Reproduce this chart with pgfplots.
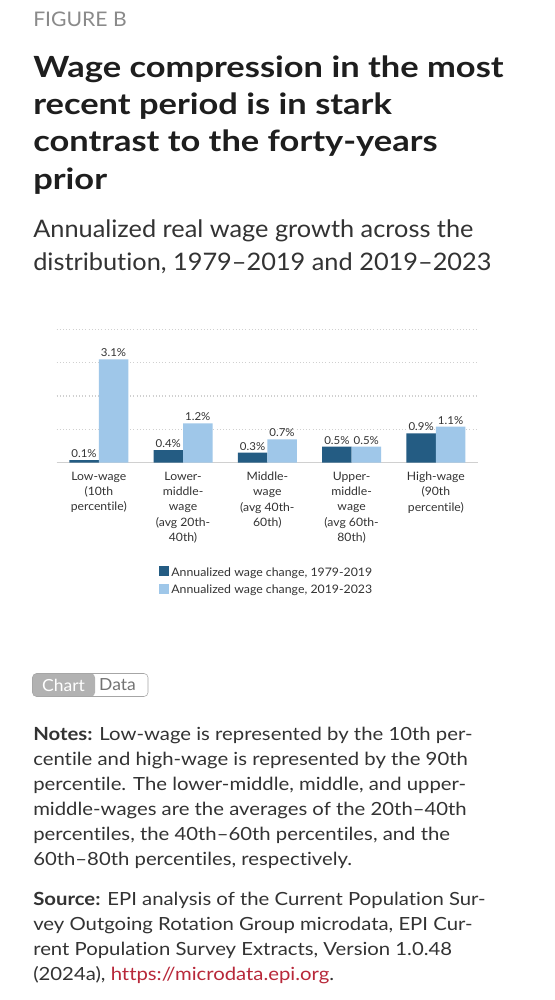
\documentclass[border=0pt]{standalone}
\usepackage{pgfplots}
\pgfplotsset{compat=1.18}
\usepackage{fontspec}
\setmainfont[Ligatures={TeX,NoCommon},FakeStretch=1.05]{Lato}
\newfontfamily\tfont[Ligatures={TeX,NoCommon},FakeStretch=1.18]{Lato}
\newfontfamily\nfont[Ligatures={TeX,NoCommon},FakeStretch=1.12]{Lato}
\definecolor{darkbar}{HTML}{245C83}
\definecolor{lightbar}{HTML}{9FC7E9}
\definecolor{txt}{HTML}{333333}
\definecolor{titlec}{HTML}{1E1E1E}
\definecolor{figc}{HTML}{8A8A8A}
\definecolor{linkc}{HTML}{B8283A}
\definecolor{gridc}{HTML}{D0D0D0}
\begin{document}
\begin{tikzpicture}
\begin{scope}[x=0.75pt,y=-0.75pt]
\path[use as bounding box,fill=white] (0,0) rectangle (554,1000);
% header
\node[anchor=base west,inner sep=0pt,text=figc,font=\fontsize{15.1}{16}\selectfont] at (33,26.7) {FIGURE B};
\begin{scope}[every node/.style={anchor=base west,inner sep=0pt,text=titlec,font=\tfont\fontsize{21.9}{26}\selectfont\bfseries}]
\node at (33,77) {Wage compression in the most};
\node at (33,114.3) {recent period is in stark};
\node at (33,151.6) {contrast to the forty-years};
\node at (33,189) {prior};
\end{scope}
\begin{scope}[every node/.style={anchor=base west,inner sep=0pt,text=txt,font=\fontsize{18.1}{24}\selectfont}]
\node at (33,237.5) {Annualized real wage growth across the};
\node at (33,270.5) {distribution, 1979--2019 and 2019--2023};
\end{scope}
% toggle
\fill[black!30,rounded corners=3pt] (32.5,673.5) -- (95,673.5) -- (95,696.5) -- (32.5,696.5) -- cycle;
\draw[black!35,rounded corners=3pt] (32.5,673.5) rectangle (148,696.5);
\node[text=white,font=\fontsize{12.5}{14}\selectfont] at (63.5,685) {Chart};
\node[text=black!55,font=\fontsize{12.5}{14}\selectfont] at (117.5,685) {Data};
% notes
\begin{scope}[every node/.style={anchor=base west,inner sep=0pt,text=txt,font=\nfont\fontsize{13.6}{16}\selectfont}]
\node at (33,740) {\textbf{Notes:} Low-wage is represented by the 10th per-};
\node at (33,765) {centile and high-wage is represented by the 90th};
\node at (33,790) {percentile. The lower-middle, middle, and upper-};
\node at (33,815) {middle-wages are the averages of the 20th--40th};
\node at (33,840) {percentiles, the 40th--60th percentiles, and the};
\node at (33,865) {60th--80th percentiles, respectively.};
\node at (33,905) {\textbf{Source:} EPI analysis of the Current Population Sur-};
\node at (33,930) {vey Outgoing Rotation Group microdata, EPI Cur-};
\node at (33,955) {rent Population Survey Extracts, Version 1.0.48};
\node at (33,980) {(2024a), \textcolor{linkc}{https://microdata.epi.org}.};
\end{scope}
\end{scope}
\begin{axis}[
  at={(42.5pt,-347pt)}, anchor=south west,
  scale only axis, width=316pt, height=100pt,
  xmin=-0.5, xmax=4.5, ymin=0, ymax=4,
  ybar=0pt, bar width=22.1pt,
  axis line style={draw=none}, tick style={draw=none},
  ytick={1,2,3,4}, yticklabels={}, ymajorgrids,
  grid style={gridc, dotted, line width=0.8pt},
  extra y ticks={0}, extra y tick labels={},
  extra y tick style={grid style={solid, gridc, line width=0.8pt}},
  xtick=data,
  xticklabels={{Low-wage\\(10th\\percentile)},{Lower-\\middle-\\wage\\(avg 20th-\\40th)},{Middle-\\wage\\(avg 40th-\\60th)},{Upper-\\middle-\\wage\\(avg 60th-\\80th)},{High-wage\\(90th\\percentile)}},
  xticklabel style={align=center, text=txt, font=\fontsize{8.7}{11.6}\selectfont, yshift=1pt},
  /pgf/number format/assume math mode=true,
  nodes near coords={\pgfmathprintnumber[fixed,precision=1,fixed zerofill]{\pgfplotspointmeta}\%},
  nodes near coords style={text=txt, font=\fontsize{8.2}{9}\selectfont, inner sep=1.5pt},
  legend style={at={(0.232,-0.745)}, anchor=north west, draw=none, fill=none,
    font=\fontsize{8.8}{10}\selectfont, text=txt, row sep=1.2pt,
    /tikz/every even column/.append style={column sep=2pt}},
  legend cell align=left,
  legend image code/.code={\path[#1,draw=none] (0pt,-2.5pt) rectangle (7.5pt,5pt);},
]
\addplot[fill=darkbar, draw=none] coordinates {(0,0.08) (1,0.38) (2,0.30) (3,0.48) (4,0.88)};
\addplot[fill=lightbar, draw=none] coordinates {(0,3.10) (1,1.18) (2,0.70) (3,0.48) (4,1.08)};
\legend{{Annualized wage change, 1979-2019},{Annualized wage change, 2019-2023}}
\end{axis}
\end{tikzpicture}
\end{document}
